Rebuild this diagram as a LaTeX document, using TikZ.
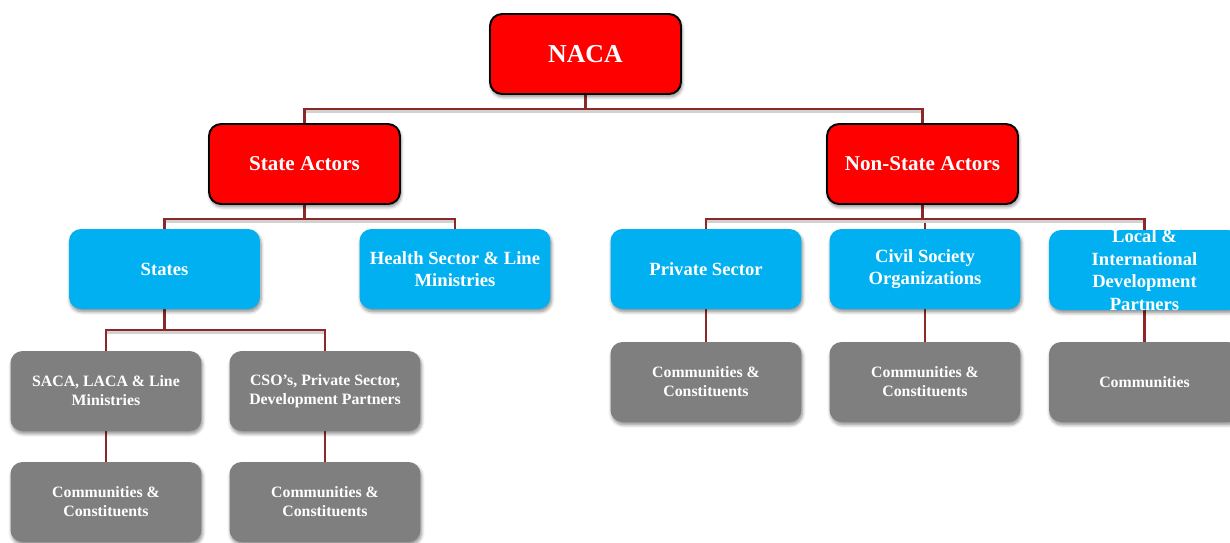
\documentclass[tikz,border=0pt]{standalone}
\usepackage{fontspec}
\setmainfont{Liberation Serif}
\usetikzlibrary{shadows.blur,backgrounds}
\definecolor{nacared}{RGB}{255,0,0}
\definecolor{unitblue}{RGB}{0,176,240}
\definecolor{basegray}{RGB}{127,127,127}
\definecolor{linkred}{RGB}{140,40,40}
\tikzset{
	box/.style={rounded corners=0.24cm, minimum width=3.82cm, minimum height=1.6cm, align=center, text=white,
		blur shadow={shadow xshift=0.6pt, shadow yshift=-1.6pt, shadow blur steps=6, shadow opacity=45}},
	head/.style={box, fill=nacared, draw=black, line width=1.1pt, font=\bfseries\fontsize{12}{14}\selectfont},
	unit/.style={box, fill=unitblue, font=\bfseries\fontsize{10.6}{12.5}\selectfont},
	base/.style={box, fill=basegray, font=\bfseries\fontsize{9}{10.8}\selectfont},
	link/.style={draw=linkred, line width=1.2pt,
		preaction={draw=black!18, line width=1.5pt, transform canvas={yshift=-1.3pt}}}
}

\begin{document}
\begin{tikzpicture}[x=0.02cm, y=-0.02cm]
			%%%%% START %%%%%
			\useasboundingbox (0,0) rectangle (1230,542);
			
			% top
			\node[head, font=\bfseries\fontsize{14.7}{16}\selectfont] (naca) at (585.5,54) {NACA};
			
			% actors
			\node[head] (state) at (304.5,164) {State Actors};
			\node[head] (nonstate) at (922.5,164) {Non-State Actors};
			
			% second level
			\node[unit] (states) at (164.5,269) {States};
			\node[unit] (health) at (455,269) {Health Sector \& Line\\Ministries};
			\node[unit] (private) at (706,269) {Private Sector};
			\node[unit] (civil) at (925,269) {Civil Society\\Organizations};
			\node[unit, inner ysep=-1pt, font=\bfseries\fontsize{10.6}{12.9}\selectfont] (partners) at (1144.5,270)
				{Local \&\\International\\Development\\Partners};
			
			% third level
			\node[base] (saca) at (106,391) {SACA, LACA \& Line\\Ministries};
			\node[base] (cso) at (325,391) {CSO’s, Private Sector,\\Development Partners};
			\node[base] (comm3) at (706,382) {Communities \&\\Constituents};
			\node[base] (comm4) at (925,382) {Communities \&\\Constituents};
			\node[base] (comm5) at (1144.5,382) {Communities};
			
			% bottom
			\node[base] (comm1) at (106,502) {Communities \&\\Constituents};
			\node[base] (comm2) at (325,502) {Communities \&\\Constituents};
			
			% links, kept behind the boxes
			\begin{scope}[on background layer]
				\draw[link] (naca.south) -- ++(0,14) -| (state.north);
				\draw[link] (naca.south) -- ++(0,14) -| (nonstate.north);
				
				\draw[link] (state.south) -- ++(0,14) -| (states.north);
				\draw[link] (state.south) -- ++(0,14) -| (health.north);
				\draw[link] (nonstate.south) -- ++(0,14) -| (private.north);
				\draw[link] (nonstate.south) -- ++(0,14) -| (civil.north);
				\draw[link] (nonstate.south) -- ++(0,14) -| (partners.north);
				
				\draw[link] (states.south) -- ++(0,21) -| (saca.north);
				\draw[link] (states.south) -- ++(0,21) -| (cso.north);
				
				\draw[link] (saca) -- (comm1);
				\draw[link] (cso) -- (comm2);
				\draw[link] (private) -- (comm3);
				\draw[link] (civil) -- (comm4);
				\draw[link] (partners.south) -- (comm5.north);
			\end{scope}
			
			%%%%% END %%%%%
\end{tikzpicture}
\end{document}
